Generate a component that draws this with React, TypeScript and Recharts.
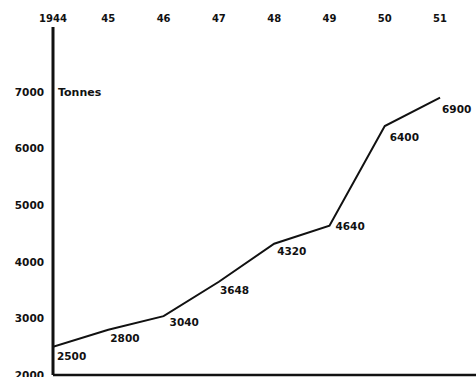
import { LabelList, Line, LineChart, ReferenceDot, ReferenceLine, XAxis, YAxis } from "recharts";

const years = [1944, 1945, 1946, 1947, 1948, 1949, 1950, 1951];
const tonnes = [2500, 2800, 3040, 3648, 4320, 4640, 6400, 6900];
const yTicks = [2000, 3000, 4000, 5000, 6000, 7000];

// where each value label sits relative to its point
const labelOffsets: [number, number][] = [
  [4, 9],
  [2, 8],
  [6, 6],
  [1, 8],
  [3, 7],
  [6, 0],
  [5, 11],
  [2, 11]
];

const ink = "#111";
const font = "'DejaVu Sans', sans-serif";

const rows = years.map((year, i) => ({ year, tonnes: tonnes[i] }));

function yearLabel(value: number) {
  return value === 1944 ? "1944" : String(value).slice(2);
}

function ValueLabel(props: any) {
  const { x, y, value, index } = props;
  const [dx, dy] = labelOffsets[index] ?? [4, 8];
  return (
    <text x={x + dx} y={y + dy} dominantBaseline="central" textAnchor="start" fill={ink} fontSize={10.5} fontWeight={700} fontFamily={font}>
      {value}
    </text>
  );
}

export default function App() {
  return (
    <div style={{ position: "absolute", left: 0, top: 0, background: "#fff" }}>
      <LineChart width={476} height={377} data={rows} margin={{ top: 0, right: 0, bottom: 2, left: 0 }}>
        <XAxis
          dataKey="year"
          type="number"
          orientation="top"
          domain={[1944, 1951.65]}
          ticks={years}
          interval={0}
          tickFormatter={yearLabel}
          axisLine={false}
          tickLine={false}
          tickSize={3}
          tickMargin={2}
          height={27}
          allowDataOverflow
          tick={{ fill: ink, fontSize: 10, fontWeight: 700, fontFamily: font }}
        />
        <YAxis
          type="number"
          domain={[2000, 8150]}
          ticks={yTicks}
          interval={0}
          width={53}
          tickLine={false}
          tickSize={6}
          tickMargin={3}
          axisLine={{ stroke: ink, strokeWidth: 3 }}
          allowDataOverflow
          tick={{ fill: ink, fontSize: 10.5, fontWeight: 700, fontFamily: font }}
        />
        <ReferenceLine y={2000} stroke={ink} strokeWidth={2.5} />
        <ReferenceDot
          x={1944}
          y={7000}
          r={0}
          label={{ value: "Tonnes", position: "right", offset: 5, fill: ink, fontSize: 11, fontWeight: 700, fontFamily: font }}
        />
        <Line type="linear" dataKey="tonnes" stroke={ink} strokeWidth={2} dot={false} isAnimationActive={false}>
          <LabelList dataKey="tonnes" content={<ValueLabel />} />
        </Line>
      </LineChart>
    </div>
  );
}
